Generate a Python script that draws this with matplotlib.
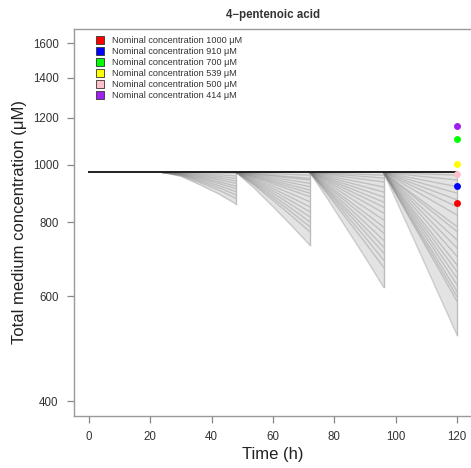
import numpy as np
import matplotlib.pyplot as plt
from matplotlib.lines import Line2D

plt.rcParams['font.family'] = ['Liberation Sans', 'DejaVu Sans']

# ---------------- Data ----------------
baseline = 970  # concentration right after each medium change (uM)
t_start, t_end = 0, 120
dose_times = [24, 48, 72, 96, 120]

# fraction of the log-drop reached along each 24 h interval
profile_u = [0.0, 0.25, 0.5, 0.75, 1.0]
profiles = [
    [0.0, 0.12, 0.38, 0.66, 1.0],
    [0.0, 0.22, 0.47, 0.73, 1.0],
    [0.0, 0.24, 0.49, 0.74, 1.0],
    [0.0, 0.25, 0.50, 0.75, 1.0],
]

# concentration at the end of each interval, one value per simulated line
seg1_end = [967, 957, 948, 939, 930, 920, 911, 900, 889, 877, 858]
seg2_end = [960, 948, 942, 930, 918, 906, 895, 883, 866, 849, 833, 817, 801, 786, 771, 732]
seg3_end = [960, 949, 935, 917, 899, 882, 865, 848, 829, 807, 785, 767, 746, 727, 710, 691, 672, 622]
seg4_end = [960, 942, 918, 895, 872, 849, 822, 786, 771, 746, 723, 700, 677, 660, 643, 627,
            611, 599, 588, 516]
seg_ends = [seg1_end, seg2_end, seg3_end, seg4_end]

# measured points at 120 h
labels = ['Nominal concentration 1000 \u03bcM', 'Nominal concentration 910 \u03bcM',
          'Nominal concentration 700 \u03bcM', 'Nominal concentration 539 \u03bcM',
          'Nominal concentration 500 \u03bcM', 'Nominal concentration 414 \u03bcM']
colors = ['#ff0000', '#0000ff', '#00ff00', '#ffff00', '#ffc0cb', '#a020f0']
meas_time = 120
meas_conc = [861, 921, 1105, 1001, 964, 1160]

# ---------------- Plot ----------------
fig = plt.figure(figsize=(4.71, 4.68), dpi=100)
ax = fig.add_axes([0.1571, 0.1118, 0.845, 0.8262])

for i in range(4):
    t0, t1 = dose_times[i], dose_times[i + 1]
    tt = t0 + np.array(profile_u) * (t1 - t0)
    prof = np.array(profiles[i])
    ends = seg_ends[i]
    low = baseline * (min(ends) / baseline) ** prof
    ax.fill_between(tt, low, baseline, color='#e3e3e3', lw=0, zorder=1)
    for e in ends:
        yy = baseline * (e / baseline) ** prof
        ax.plot(tt, yy, color='#7a7a7a', alpha=0.33, lw=1.0, zorder=2)
    # light edge where the medium is refreshed
    ax.plot([t1, t1], [min(ends), baseline], color='#bdbdbd', lw=1.0, zorder=2)

ax.plot([t_start, t_end], [baseline, baseline], color='#202020', lw=1.4, zorder=3)

for c, v in zip(colors, meas_conc):
    ax.plot(meas_time, v, 'o', color=c, ms=5, mec='none', zorder=4)

ax.set_yscale('log')
ax.set_xlim(-4.8, 124.8)
ax.set_ylim(378, 1691)
ax.set_xticks([0, 20, 40, 60, 80, 100, 120])
ax.set_yticks([400, 600, 800, 1000, 1200, 1400, 1600])
ax.set_yticklabels(['400', '600', '800', '1000', '1200', '1400', '1600'])
ax.yaxis.set_minor_locator(plt.NullLocator())
ax.tick_params(axis='both', which='major', direction='out', length=5, width=0.9,
               color='#888888', labelcolor='#333333', labelsize=8.3, pad=6)

for s in ax.spines.values():
    s.set_color('#999999')
    s.set_linewidth(1.0)

ax.set_xlabel('Time (h)', fontsize=12, color='#222222', labelpad=3)
ax.set_ylabel('Total medium concentration (\u03bcM)', fontsize=12, color='#222222', labelpad=4)
ax.set_title('4\u2212pentenoic acid', fontsize=8.3, fontweight='bold', color='#333333', pad=8)

handles = [Line2D([], [], marker='s', ls='none', mfc=c, mec='#333333', mew=0.6, ms=5.5)
           for c in colors]
ax.legend(handles, labels, loc='upper left', bbox_to_anchor=(0.025, 1.0), frameon=False,
          fontsize=6.6, handletextpad=0.3, labelspacing=0.22, borderpad=0.3,
          labelcolor='#333333')

fig.savefig('out.png', dpi=100)
